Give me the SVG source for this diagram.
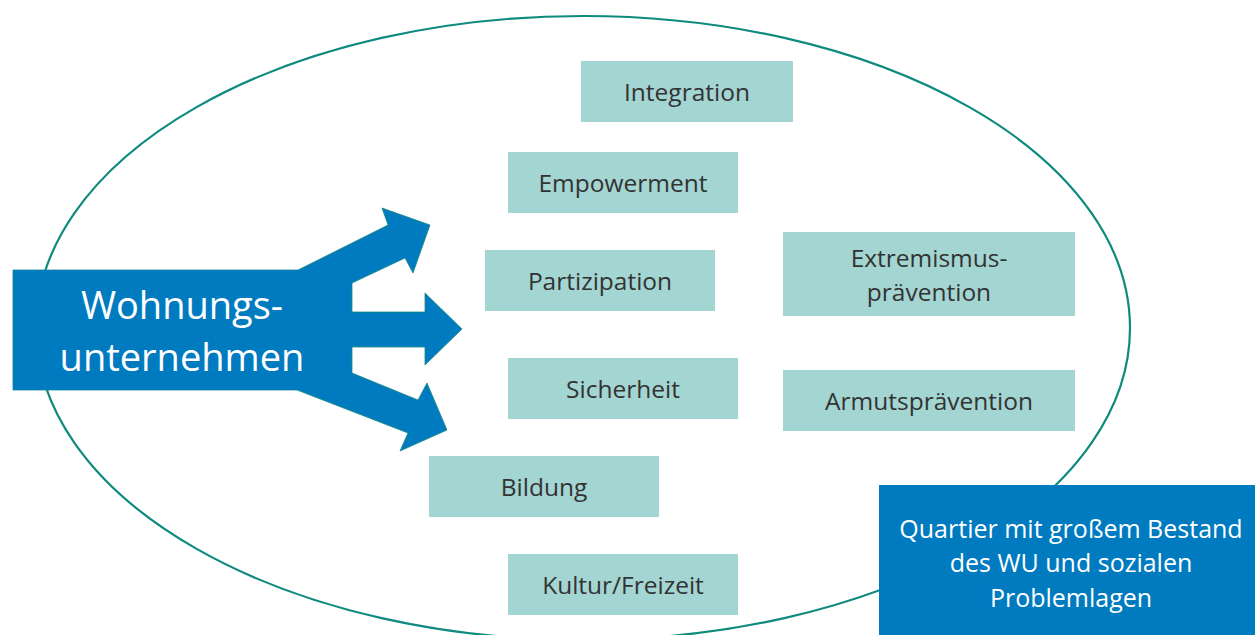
<svg xmlns="http://www.w3.org/2000/svg" width="1255" height="635" viewBox="0 0 1255 635">
<style>
.box{fill:#a3d5d2}
.lbl{font-family:"Open Sans","Liberation Sans",sans-serif;font-size:24.5px;fill:#333333;text-anchor:middle}
.wl{font-family:"Open Sans","Liberation Sans",sans-serif;fill:#ffffff;text-anchor:middle}
</style>
<rect width="1255" height="635" fill="#ffffff"/>
<g id="quartier-ellipse">
<ellipse cx="583" cy="328" rx="547" ry="312" fill="none" stroke="#0e8a7e" stroke-width="2.2"/>
</g>
<g id="connectors">
<path d="M13,270 L298,270 L388,225 L382,208 L430,225 L413,273 L405,258 L352,283 L352,312 L425,312 L425,293 L462,329 L425,365 L425,347 L352,347 L352,373 L418,400 L427,383 L447,430 L400,451 L408,433 L297,390 L13,390 Z" fill="#007bbf" stroke="#1a8a80" stroke-width="0.8" stroke-linejoin="miter"/>
</g>
<g id="wohnungsunternehmen">
<rect x="13" y="270" width="285" height="120" fill="#007bbf"/>
<text class="wl" font-size="38" x="182" y="319">Wohnungs-</text>
<text class="wl" font-size="38" x="182" y="371">unternehmen</text>
</g>
<g id="integration"><rect class="box" x="581" y="61" width="212" height="61"/><text class="lbl" x="687" y="101">Integration</text></g>
<g id="empowerment"><rect class="box" x="508" y="152" width="230" height="61"/><text class="lbl" x="623" y="192">Empowerment</text></g>
<g id="partizipation"><rect class="box" x="485" y="250" width="230" height="61"/><text class="lbl" x="600" y="290">Partizipation</text></g>
<g id="sicherheit"><rect class="box" x="508" y="358" width="230" height="61"/><text class="lbl" x="623" y="398">Sicherheit</text></g>
<g id="bildung"><rect class="box" x="429" y="456" width="230" height="61"/><text class="lbl" x="544" y="496">Bildung</text></g>
<g id="kultur"><rect class="box" x="508" y="554" width="230" height="61"/><text class="lbl" x="623" y="594">Kultur/Freizeit</text></g>
<g id="extremismus"><rect class="box" x="783" y="232" width="292" height="84"/><text class="lbl" x="929" y="267">Extremismus-</text><text class="lbl" x="929" y="301">prävention</text></g>
<g id="armut"><rect class="box" x="783" y="370" width="292" height="61"/><text class="lbl" x="929" y="410">Armutsprävention</text></g>
<g id="quartier">
<rect x="879" y="485" width="376" height="150" fill="#007bbf"/>
<text class="wl" font-size="25" x="1071" y="538">Quartier mit großem Bestand</text>
<text class="wl" font-size="25" x="1071" y="572">des WU und sozialen</text>
<text class="wl" font-size="25" x="1071" y="607">Problemlagen</text>
</g>
</svg>
